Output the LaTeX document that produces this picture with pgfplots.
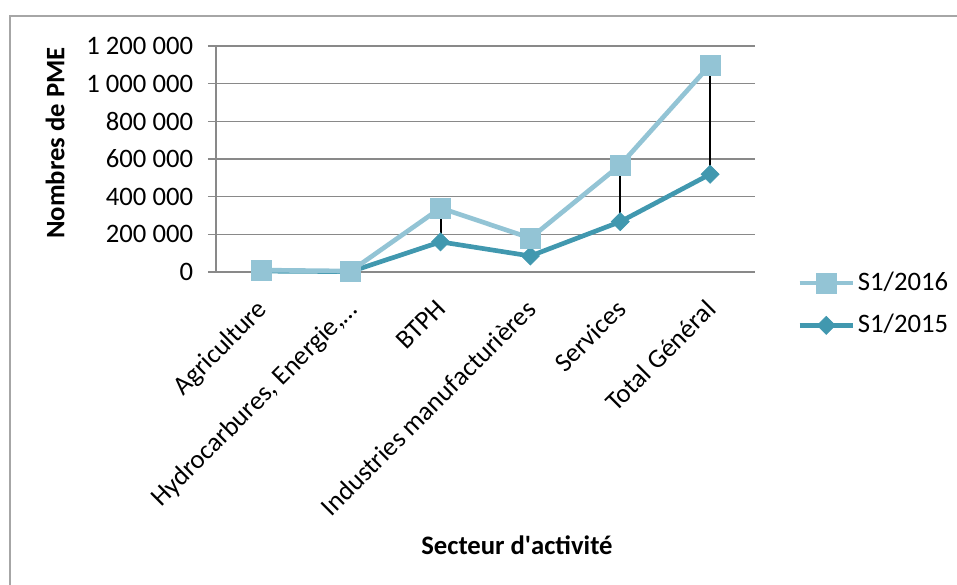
\documentclass[border=0pt]{standalone}
\usepackage{pgfplots}
\pgfplotsset{compat=1.18}
\usepackage{fontspec}
\setmainfont{Carlito}
\definecolor{lightb}{HTML}{93C4D5}
\definecolor{teal2}{HTML}{4198AF}
\definecolor{gridg}{HTML}{898989}
\definecolor{frameg}{HTML}{A6A6A6}
\begin{document}
\fontsize{20}{24}\selectfont
\begin{tikzpicture}
\useasboundingbox (-162pt,-234.75pt) rectangle (555.75pt,204pt);
\draw[frameg, line width=1.5pt] (-154.5pt,-240pt) -- (-154.5pt,192pt) -- (560pt,192pt);
\begin{axis}[
  at={(0pt,0pt)}, anchor=south west,
  scale only axis, width=404.25pt, height=169.5pt,
  xmin=-0.5, xmax=5.5, ymin=0, ymax=1200000,
  axis lines*=left,
  axis x line=none,
  y axis line style={gridg, line width=1pt},
  ytick={0,200000,400000,600000,800000,1000000,1200000},
  yticklabels={0,200 000,400 000,600 000,800 000,1 000 000,1 200 000},
  scaled y ticks=false,
  yticklabel style={inner sep=3pt, xshift=-8pt},
  ymajorgrids, grid style={gridg, line width=1pt},
  tick align=outside, major tick length=6pt,
  ytick style={gridg, line width=1pt},
  xtick=\empty,
  clip=false,
  legend style={at={(1.078,-0.142)}, anchor=west, draw=none, fill=none,
    inner sep=0pt, row sep=11pt, font=\fontsize{20}{24}\selectfont,
    cells={anchor=west}},
  legend image code/.code={
    \draw[#1] (0pt,0pt) -- (40pt,0pt);
    \draw[#1, mark repeat=1] plot coordinates {(20pt,0pt)};},
  reverse legend,
]
\addplot[teal2, line width=3.5pt, mark=square*, mark size=4.8pt, mark options={solid, rotate=45, fill=teal2, draw=teal2, line width=0.5pt}]
  coordinates {(0,5000) (1,2000) (2,160000) (3,85000) (4,267000) (5,519000)};
\addlegendentry{S1/2015}
\addplot[lightb, line width=3.5pt, mark=square*, mark size=7.5pt, mark options={solid, fill=lightb, draw=lightb, line width=0.5pt}]
  coordinates {(0,10000) (1,5000) (2,340000) (3,180000) (4,568000) (5,1099000)};
\addlegendentry{S1/2016}
\addplot[black, line width=1.4pt, forget plot] coordinates {(0,10000) (0,5000)};
\addplot[black, line width=1.4pt, forget plot] coordinates {(1,5000) (1,2000)};
\addplot[black, line width=1.4pt, forget plot] coordinates {(2,340000) (2,160000)};
\addplot[black, line width=1.4pt, forget plot] coordinates {(3,180000) (3,85000)};
\addplot[black, line width=1.4pt, forget plot] coordinates {(4,568000) (4,267000)};
\addplot[black, line width=1.4pt, forget plot] coordinates {(5,1099000) (5,519000)};
\foreach \i/\lab in {0/Agriculture,1/{Hydrocarbures, Energie,…},2/BTPH,3/Industries manufacturières,4/Services,5/Total Général}{
  \edef\temp{\noexpand\node[rotate=45, anchor=north east, inner sep=2pt] at (axis cs:\i,0) [yshift=-8.6pt, xshift=-14.8pt] {\lab};}
  \temp
}
\end{axis}
\node[rotate=90, font=\bfseries] at (-120.75pt,96.75pt) {Nombres de PME};
\node[font=\bfseries] at (225.75pt,-204.75pt) {Secteur d\textquotesingle activité};
\end{tikzpicture}
\end{document}
